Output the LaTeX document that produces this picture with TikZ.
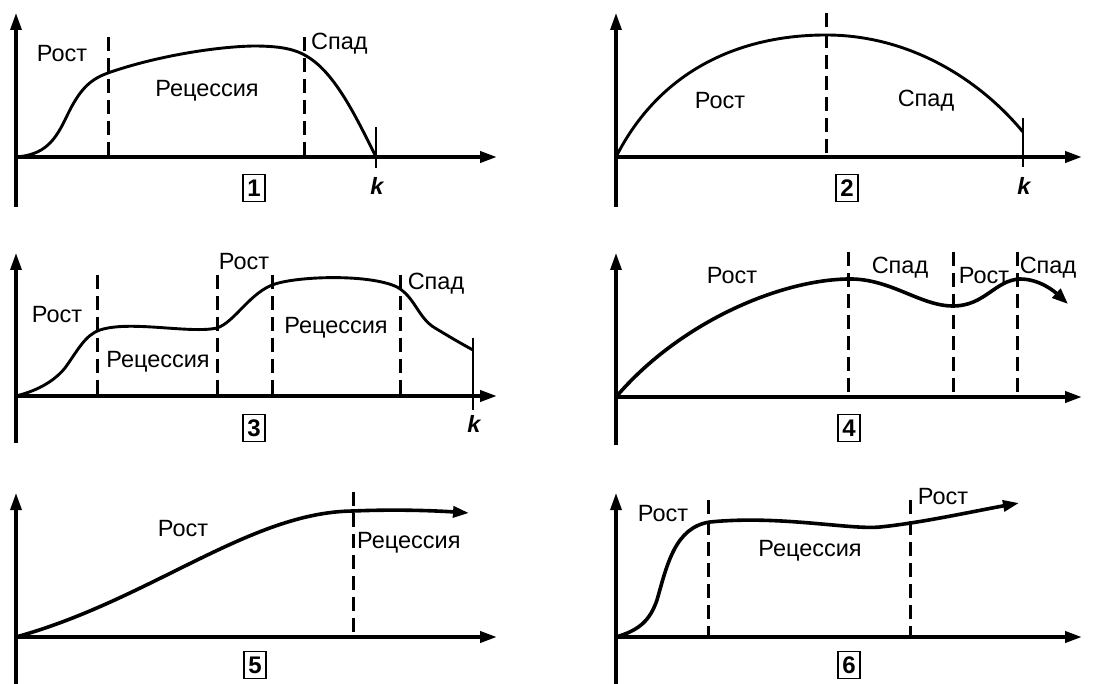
\documentclass[tikz,border=0pt]{standalone}
\usepackage{fontspec}
\setmainfont{Liberation Sans}
\usetikzlibrary{arrows.meta}
\begin{document}
\begin{tikzpicture}[x=1pt,y=-1pt,
  axis/.style={line width=3.8pt,-{Triangle[length=17pt,width=11pt]}},
  yaxis/.style={line width=3.2pt,-{Triangle[length=17pt,width=11pt]}},
  curve/.style={line width=2.9pt,line join=round},
  thick curve/.style={line width=3.6pt,line join=round},
  divider/.style={line width=3pt,dash pattern=on 14pt off 7pt},
  endtick/.style={line width=1.9pt},
  lbl/.style={font=\fontsize{23.5}{28}\selectfont,inner sep=0pt},
  klbl/.style={font=\fontsize{23.5}{28}\selectfont\bfseries\itshape,inner sep=0pt},
  numbox/.style={draw,line width=1.6pt,font=\fontsize{24}{28}\selectfont\bfseries,minimum width=22pt,minimum height=27pt,inner sep=0pt}
]
\useasboundingbox (0,0) rectangle (1095,684);
\fill[white] (0,0) rectangle (1095,684);

% ---------- Panel 1 ----------
\coordinate (o1) at (16,157);
\coordinate (y1) at (16,13);
\coordinate (yb1) at (16,207);
\coordinate (x1) at (497,157);
\draw[yaxis] (yb1) -- (y1);
\draw[axis] (o1) -- (x1);
\draw[curve] (o1) .. controls (45,155) and (55,140) .. (65,120)
  .. controls (78,92) and (88,80) .. (108,73)
  .. controls (150,58) and (210,47) .. (253,46)
  .. controls (285,46) and (300,50) .. (315,62)
  .. controls (340,82) and (360,125) .. (376,157);
\coordinate (d1a) at (108,37); \coordinate (d1ab) at (108,157);
\coordinate (d1b) at (304,37); \coordinate (d1bb) at (304,157);
\draw[divider] (d1a) -- (d1ab);
\draw[divider] (d1b) -- (d1bb);
\coordinate (k1t) at (376,127); \coordinate (k1b) at (376,168);
\draw[endtick] (k1t) -- (k1b);
\node[klbl] (k1) at (377,186) {k};
\node[lbl] (r1) at (62,54) {Рост};
\node[lbl] (rc1) at (207,91) {Рецессия};
\node[lbl,anchor=west] (s1) at (311,44) {Спад};
\node[numbox] (n1) at (254,188) {1};

% ---------- Panel 2 ----------
\coordinate (o2) at (616,157);
\coordinate (y2) at (616,13);
\coordinate (yb2) at (616,207);
\coordinate (x2) at (1082,157);
\draw[yaxis] (yb2) -- (y2);
\draw[axis] (o2) -- (x2);
\draw[curve] (o2) .. controls (660,70) and (740,35) .. (826,35)
  .. controls (910,35) and (980,80) .. (1023,132);
\coordinate (d2a) at (826,13); \coordinate (d2ab) at (826,157);
\draw[divider] (d2a) -- (d2ab);
\coordinate (k2t) at (1023,118); \coordinate (k2b) at (1023,167);
\draw[endtick] (k2t) -- (k2b);
\node[klbl] (k2) at (1024,186) {k};
\node[lbl] (r2) at (720,101) {Рост};
\node[lbl] (s2) at (926,101) {Спад};
\node[numbox] (n2) at (847,188) {2};

% ---------- Panel 3 ----------
\coordinate (o3) at (16,396);
\coordinate (y3) at (16,253);
\coordinate (yb3) at (16,443);
\coordinate (x3) at (497,396);
\draw[yaxis] (yb3) -- (y3);
\draw[axis] (o3) -- (x3);
\draw[curve] (o3) .. controls (40,390) and (55,380) .. (65,368)
  .. controls (78,350) and (85,335) .. (100,330)
  .. controls (130,320) and (190,334) .. (217,328)
  .. controls (235,322) and (250,292) .. (275,284)
  .. controls (300,276) and (370,274) .. (397,287)
  .. controls (415,297) and (418,318) .. (435,328)
  .. controls (450,337) and (460,343) .. (473,350);
\foreach \xx/\nm in {97/a,217/b,272/c,400/d}{
  \coordinate (d3\nm) at (\xx,275); \coordinate (d3\nm b) at (\xx,396);
  \draw[divider] (d3\nm) -- (d3\nm b);
}
\coordinate (k3t) at (473,338); \coordinate (k3b) at (473,410);
\draw[endtick] (k3t) -- (k3b);
\node[klbl] (k3) at (474,424) {k};
\node[lbl] (r3a) at (57,315) {Рост};
\node[lbl] (rc3a) at (158,362) {Рецессия};
\node[lbl] (r3b) at (244,262) {Рост};
\node[lbl] (rc3b) at (336,328) {Рецессия};
\node[lbl] (s3) at (436,284) {Спад};
\node[numbox] (n3) at (254,428) {3};

% ---------- Panel 4 ----------
\coordinate (o4) at (616,397);
\coordinate (y4) at (616,253);
\coordinate (yb4) at (616,445);
\coordinate (x4) at (1082,397);
\draw[yaxis] (yb4) -- (y4);
\draw[axis] (o4) -- (x4);
\draw[thick curve,-{Triangle[length=16pt,width=12pt]}] (o4)
  .. controls (680,322) and (780,280) .. (848,279)
  .. controls (890,278) and (920,306) .. (953,306)
  .. controls (985,306) and (995,280) .. (1020,279)
  .. controls (1040,279) and (1055,292) .. (1068,304);
\foreach \xx/\nm in {848/a,953/b,1017/c}{
  \coordinate (d4\nm) at (\xx,252); \coordinate (d4\nm b) at (\xx,397);
  \draw[divider] (d4\nm) -- (d4\nm b);
}
\node[lbl] (r4a) at (732,276) {Рост};
\node[lbl] (s4a) at (900,268) {Спад};
\node[lbl] (r4b) at (984,276) {Рост};
\node[lbl] (s4b) at (1048,268) {Спад};
\node[numbox] (n4) at (849,428) {4};

% ---------- Panel 5 ----------
\coordinate (o5) at (16,637);
\coordinate (y5) at (16,493);
\coordinate (yb5) at (16,684);
\coordinate (x5) at (497,637);
\draw[yaxis] (yb5) -- (y5);
\draw[axis] (o5) -- (x5);
\draw[thick curve,-{Triangle[length=16pt,width=11pt]}] (o5)
  .. controls (150,600) and (250,512) .. (353,511)
  .. controls (400,509) and (440,511) .. (469,513);
\coordinate (d5a) at (353,492); \coordinate (d5ab) at (353,637);
\draw[divider] (d5a) -- (d5ab);
\node[lbl] (r5) at (183,529) {Рост};
\node[lbl,anchor=west] (rc5) at (357,543) {Рецессия};
\node[numbox] (n5) at (255,665) {5};

% ---------- Panel 6 ----------
\coordinate (o6) at (616,637);
\coordinate (y6) at (616,493);
\coordinate (yb6) at (616,684);
\coordinate (x6) at (1082,637);
\draw[yaxis] (yb6) -- (y6);
\draw[axis] (o6) -- (x6);
\draw[thick curve,-{Triangle[length=16pt,width=11pt]}] (o6)
  .. controls (640,630) and (650,620) .. (657,600)
  .. controls (667,565) and (675,527) .. (710,522)
  .. controls (780,515) and (850,530) .. (880,527)
  .. controls (920,523) and (970,512) .. (1019,503);
\coordinate (d6a) at (708,500); \coordinate (d6ab) at (708,637);
\coordinate (d6b) at (910,500); \coordinate (d6bb) at (910,637);
\draw[divider] (d6a) -- (d6ab);
\draw[divider] (d6b) -- (d6bb);
\node[lbl] (r6a) at (663,514) {Рост};
\node[lbl] (rc6) at (810,551) {Рецессия};
\node[lbl] (r6b) at (943,497) {Рост};
\node[numbox] (n6) at (849,665) {6};
\end{tikzpicture}
\end{document}
